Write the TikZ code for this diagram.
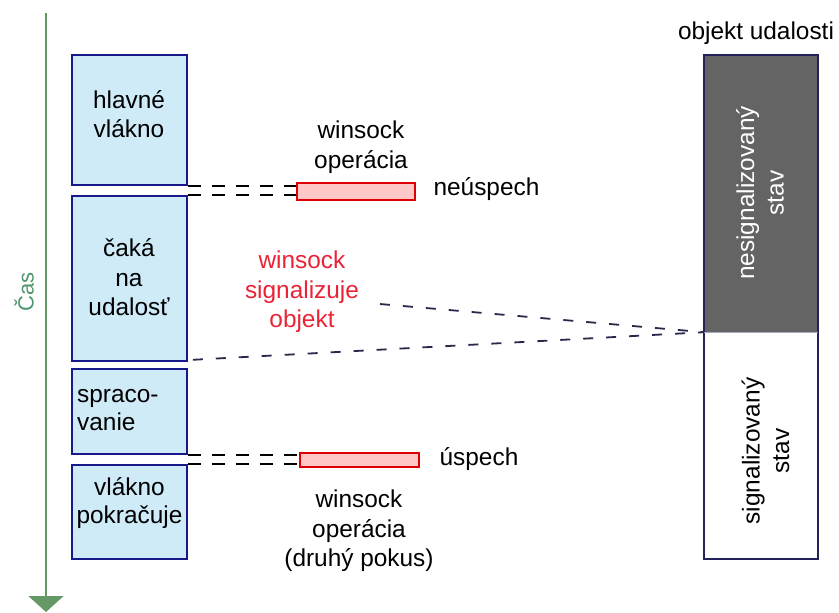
\documentclass[tikz,border=0pt]{standalone}
\usepackage{fontspec}
\setmainfont{Liberation Sans}
\usetikzlibrary{arrows.meta}

\definecolor{phasefill}{RGB}{207,235,248}
\definecolor{phaseline}{RGB}{25,25,140}
\definecolor{timegreen}{RGB}{100,152,100}
\definecolor{timetext}{RGB}{80,150,110}
\definecolor{opfill}{RGB}{255,200,200}
\definecolor{opline}{RGB}{225,0,0}
\definecolor{signalred}{RGB}{235,35,55}
\definecolor{stategrey}{RGB}{100,100,100}
\definecolor{stateline}{RGB}{35,35,90}
\definecolor{linkdark}{RGB}{40,40,75}

\tikzset{
  phase/.style={draw=phaseline, line width=1.6pt, fill=phasefill,
    minimum width=115pt, inner sep=0pt},
  opbar/.style={draw=opline, line width=1.5pt, fill=opfill, inner sep=0pt},
  txt/.style={align=center, inner sep=2pt},
  opdash/.style={draw=black, line width=1.8pt, dash pattern=on 13pt off 11pt},
  sigdash/.style={draw=linkdark, line width=1.8pt, dash pattern=on 10pt off 13pt},
  timeline/.style={draw=timegreen, line width=1.6pt},
}

\begin{document}
\begin{tikzpicture}[x=1pt, y=-1pt, font=\fontsize{24.4}{29.5}\selectfont]
\useasboundingbox (0,0) rectangle (839,613);
\fill[white] (0,0) rectangle (839,613);

% time axis
\coordinate (tstart) at (46,13);
\coordinate (tend) at (46,612);
\draw[timeline, -{Triangle[width=35pt,length=16pt,fill=timegreen]}] (tstart) -- (tend);
\node[rotate=90, text=timetext, font=\fontsize{22}{26}\selectfont] (cas) at (24,292) {Čas};

% phases of the thread
\node[phase, minimum height=130pt] (b1) at (129.5,120) {};
\node[phase, minimum height=165pt] (b2) at (129.5,278.5) {};
\node[phase, minimum height=85pt]  (b3) at (129.5,411.5) {};
\node[phase, minimum height=94pt]  (b4) at (129.5,512) {};

\node[txt] (t1) at (129,114) {hlavné\\vlákno};
\node[txt] (t2) at (129,277.5) {čaká\\na\\udalosť};
\node[txt, align=left, anchor=west, font=\fontsize{24.4}{28}\selectfont] (t3) at (75,410.5) {spraco-\\vanie};
\node[txt, font=\fontsize{24.4}{28}\selectfont] (t4) at (129.5,503) {vlákno\\pokračuje};

% winsock operations
\node[opbar, minimum width=118pt, minimum height=17pt] (fail) at (356,191.5) {};
\node[opbar, minimum width=119pt, minimum height=14pt] (ok) at (359.5,460) {};

\node[txt] (op1) at (361,147) {winsock\\operácia};
\node[txt] (fl) at (486.5,189) {neúspech};
\node[txt] (sc) at (479,459) {úspech};
\node[txt] (op2) at (359,531) {winsock\\operácia\\(druhý pokus)};

\draw[opdash] (b1.south east) -- (b1.south east -| fail.west);
\draw[opdash] (b2.north east) -- (b2.north east -| fail.west);
\draw[opdash] (b3.south east) -- (b3.south east -| ok.west);
\draw[opdash] (b4.north east) -- (b4.north east -| ok.west);

% event object
\node[txt] (objlbl) at (756,33) {objekt udalosti};
\node[fill=stategrey, minimum width=114pt, minimum height=277pt, inner sep=0pt] (grey) at (761,193.5) {};
\node[fill=white, minimum width=114pt, minimum height=227pt, inner sep=0pt] (sig) at (761,445.5) {};
\draw[stateline, line width=1.5pt] (grey.north west) rectangle (sig.south east);
\draw[stateline!40, line width=0.8pt] (grey.south west) -- (grey.south east);
\node[txt, rotate=90, text=white] (greytxt) at (760,193) {nesignalizovaný\\stav};
\node[txt, rotate=90] (sigtxt) at (765.5,451) {signalizovaný\\stav};

% signalling
\node[txt, text=signalred] (signal) at (302,292) {winsock\\signalizuje\\objekt};
\coordinate (sigtail) at (380,304);
\draw[sigdash] (sigtail) -- (grey.south west);
\draw[sigdash] ([xshift=5pt,yshift=2pt]b2.south east) -- (grey.south west);
\end{tikzpicture}
\end{document}
